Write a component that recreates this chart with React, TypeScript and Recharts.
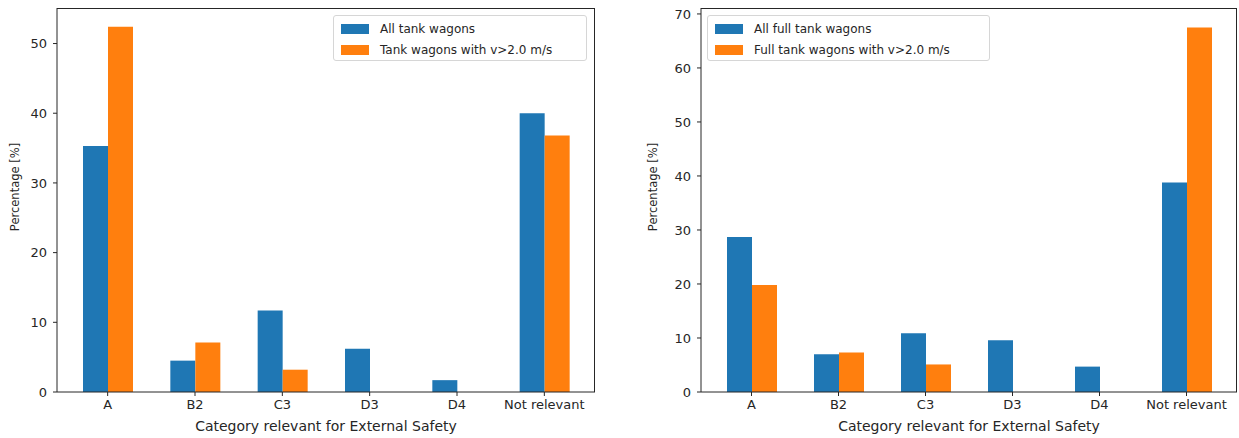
import { BarChart, Bar, XAxis, YAxis, Legend } from "recharts";

const categories = ["A", "B2", "C3", "D3", "D4", "Not relevant"];

// left panel: all wagons
const allWagons = [35.3, 4.5, 11.7, 6.2, 1.7, 40.0];
const fastWagons = [52.4, 7.1, 3.2, 0, 0, 36.8];

// right panel: full wagons only
const allFullWagons = [28.7, 7.0, 10.9, 9.6, 4.7, 38.8];
const fastFullWagons = [19.8, 7.3, 5.1, 0, 0, 67.5];

const leftTicks = [0, 10, 20, 30, 40, 50];
const rightTicks = [0, 10, 20, 30, 40, 50, 60, 70];

const BLUE = "#1f77b4";
const ORANGE = "#ff7f0e";
const INK = "#262626";
const FONT = "'DejaVu Sans', sans-serif";

const CHART_H = 438;
const TOP = 8;
const X_AXIS_H = 46;

type Row = { cat: string; a: number; b: number };

function toRows(a: number[], b: number[]): Row[] {
  return categories.map((cat, i) => ({ cat, a: a[i], b: b[i] }));
}

function LegendBox({ payload, width }: { payload?: any[]; width: number }) {
  return (
    <div
      style={{
        width,
        height: 46,
        boxSizing: "border-box",
        border: "1px solid #d6d6d6",
        borderRadius: 3,
        background: "rgba(255,255,255,0.85)",
        paddingTop: 2,
        fontFamily: FONT,
        fontSize: 12,
        color: INK,
      }}
    >
      {(payload || []).map((p) => (
        <div key={p.value} style={{ display: "flex", alignItems: "center", height: 21 }}>
          <span
            style={{
              display: "inline-block",
              width: 28,
              height: 10,
              marginLeft: 7,
              marginRight: 11,
              background: p.color,
            }}
          />
          <span>{p.value}</span>
        </div>
      ))}
    </div>
  );
}

type PanelProps = {
  rows: Row[];
  names: [string, string];
  ticks: number[];
  yMax: number;
  width: number;
  axisWidth: number;
  rightMargin: number;
  labelOffset: number;
  legendLeft: number;
  legendWidth: number;
};

function Panel(props: PanelProps) {
  const { rows, names, ticks, yMax, width, axisWidth, rightMargin, labelOffset, legendLeft, legendWidth } = props;
  const tickStyle = { fontSize: 13, fill: INK, fontFamily: FONT };
  const axisLine = { stroke: INK, strokeWidth: 1 };
  const plotW = width - axisWidth - rightMargin;
  const plotH = CHART_H - TOP - X_AXIS_H;

  // rotated y label, sitting a little above the axis middle
  const yLabel = ({ viewBox }: any) => {
    const cx = viewBox.x + labelOffset;
    const cy = viewBox.y + viewBox.height / 2 - 13;
    return (
      <text
        x={cx}
        y={cy}
        transform={`rotate(-90, ${cx}, ${cy})`}
        textAnchor="middle"
        dominantBaseline="central"
        fontSize={11.5}
        fill={INK}
        fontFamily={FONT}
      >
        Percentage [%]
      </text>
    );
  };

  return (
    <div style={{ position: "relative", width, height: CHART_H }}>
      <BarChart
        width={width}
        height={CHART_H}
        data={rows}
        margin={{ top: TOP, right: rightMargin, left: 0, bottom: 0 }}
        barGap={0}
        barSize={25}
      >
        <XAxis
          dataKey="cat"
          height={X_AXIS_H}
          padding={{ left: 7, right: 7 }}
          tick={tickStyle}
          tickSize={4}
          tickMargin={4}
          tickLine={{ stroke: INK }}
          axisLine={axisLine}
          interval={0}
          label={{
            value: "Category relevant for External Safety",
            position: "insideBottom",
            offset: 7,
            style: { fontSize: 14, fill: INK, fontFamily: FONT },
          }}
        />
        <YAxis
          width={axisWidth}
          domain={[0, yMax]}
          ticks={ticks}
          allowDataOverflow
          tick={tickStyle}
          tickSize={4}
          tickMargin={6}
          tickLine={{ stroke: INK }}
          axisLine={axisLine}
          label={{ content: yLabel }}
        />
        <Legend
          layout="horizontal"
          verticalAlign="middle"
          align="center"
          wrapperStyle={{ left: legendLeft, top: 15, width: legendWidth, height: 46 }}
          content={(p: any) => <LegendBox payload={p.payload} width={legendWidth} />}
        />
        <Bar dataKey="a" name={names[0]} fill={BLUE} isAnimationActive={false} />
        <Bar dataKey="b" name={names[1]} fill={ORANGE} isAnimationActive={false} />
      </BarChart>
      {/* top and right spines of the axes box */}
      <div
        style={{
          position: "absolute",
          left: axisWidth,
          top: TOP,
          width: plotW,
          height: plotH,
          boxSizing: "border-box",
          borderTop: `1px solid ${INK}`,
          borderRight: `1px solid ${INK}`,
          pointerEvents: "none",
        }}
      />
    </div>
  );
}

export default function App() {
  return (
    <div
      style={{
        position: "absolute",
        left: 0,
        top: 0,
        width: 1239,
        height: 438,
        background: "#fff",
        display: "flex",
      }}
    >
      <Panel
        rows={toRows(allWagons, fastWagons)}
        names={["All tank wagons", "Tank wagons with v>2.0 m/s"]}
        ticks={leftTicks}
        yMax={55.1}
        width={620}
        axisWidth={57}
        rightMargin={25}
        labelOffset={15}
        legendLeft={333}
        legendWidth={254}
      />
      <Panel
        rows={toRows(allFullWagons, fastFullWagons)}
        names={["All full tank wagons", "Full tank wagons with v>2.0 m/s"]}
        ticks={rightTicks}
        yMax={71.1}
        width={619}
        axisWidth={81}
        rightMargin={2}
        labelOffset={33}
        legendLeft={87}
        legendWidth={283}
      />
    </div>
  );
}
